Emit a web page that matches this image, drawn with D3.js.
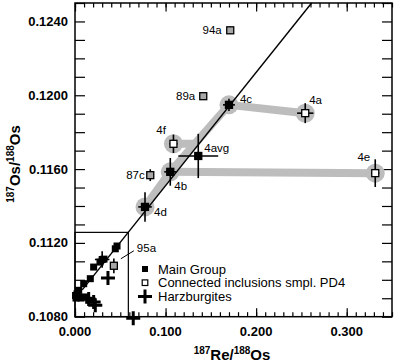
<!DOCTYPE html>
<html>
<head>
<meta charset="utf-8">
<script src="https://cdn.jsdelivr.net/npm/d3@7"></script>
<style>
  body { margin: 0; background: #fff; }
  svg { font-family: "Liberation Sans", Arial, sans-serif; }
</style>
</head>
<body>
<div id="chart"></div>
<script>
// main group (black squares), [Re/Os, Os/Os]
var mainGroup = [
  [0.0464, 0.11183], [0.0445, 0.11168], [0.0320, 0.11112], [0.0276, 0.11096],
  [0.0206, 0.11069], [0.0169, 0.11006], [0.0096, 0.10979], [0.0041, 0.10943],
  [0.0022, 0.10924], [0.0006, 0.10915], [0.0041, 0.10907], [0.0011, 0.10901],
  [0.0066, 0.10901], [0.0114, 0.10907], [0.0151, 0.10889]
];
// one main group point with error cross: [x, y, xerr, yerr]
var mainErr = [[0.0300, 0.11110, 0.008, 0.00045]];

var harzburgites = [
  [0.0364, 0.11010], [0.0206, 0.10880], [0.0224, 0.10862],
  [0.0151, 0.10896], [0.0643, 0.10791]
];

// labelled samples: id, kind, x, y, xerr, yerr
var samples = [
  ["94a", "grey", 0.1714, 0.12352, 0.002, 0.0002],
  ["89a", "grey", 0.1416, 0.11995, 0, 0],
  ["4c", "black", 0.1700, 0.11948, 0.0066, 0.00033],
  ["4a", "white", 0.2542, 0.11903, 0.009, 0.00054],
  ["4avg", "black", 0.1361, 0.11671, 0.022, 0.0012],
  ["4e", "white", 0.3315, 0.11578, 0.0045, 0.00075],
  ["4f", "white", 0.1087, 0.11737, 0.0045, 0.0005],
  ["87c", "grey", 0.0831, 0.11567, 0, 0.00032],
  ["4b", "black", 0.1052, 0.11585, 0.0066, 0.00075],
  ["4d", "black", 0.0773, 0.11395, 0.0075, 0.0008],
  ["95a", "grey", 0.0429, 0.11076, 0.002, 0.0004]
];
var halos = ["4c", "4a", "4e", "4f", "4b", "4d"];
var ties = [["4d", "4b"], ["4b", "4c"], ["4c", "4a"], ["4b", "4e"]];

// reference line: intercept, slope
var isoIntercept = 0.10896, isoSlope = 0.0614;
// inset box corner
var boxX = 0.0589, boxY = 0.11257;

var legendItems = ["Main Group", "Connected inclusions smpl. PD4", "Harzburgites"];

var xTicks = [0, 0.1, 0.2, 0.3];
var yTicks = [0.108, 0.112, 0.116, 0.120, 0.124];

var W = 394, H = 364;
var margin = {top: 3, right: 2, bottom: 47.3, left: 75},
    width = W - margin.left - margin.right,
    height = H - margin.top - margin.bottom;

var svg = d3.select("#chart").append("svg")
    .attr("width", W).attr("height", H);
var g = svg.append("g")
    .attr("transform", "translate(" + margin.left + "," + margin.top + ")");

var x = d3.scaleLinear().domain([0, 0.35]).range([0, width]);
var y = d3.scaleLinear().domain([0.108, 0.125]).range([height, 0]);

// ticks (all inward)
function tickAxis(axis, sel) {
  sel.call(axis);
  sel.select(".domain").remove();
  sel.selectAll("line").attr("stroke", "#000").attr("stroke-width", 1.2);
}
var xMinor = d3.range(0, 0.3501, 0.01);
var yMinor = d3.range(0.108, 0.12501, 0.001);

tickAxis(d3.axisBottom(x).tickValues(xMinor).tickSize(-4.5).tickFormat(""),
  g.append("g").attr("transform", "translate(0," + height + ")"));
tickAxis(d3.axisBottom(x).tickValues(xTicks).tickSize(-8.5).tickFormat(""),
  g.append("g").attr("transform", "translate(0," + height + ")"));
tickAxis(d3.axisTop(x).tickValues(xMinor).tickSize(-4.5).tickFormat(""), g.append("g"));
tickAxis(d3.axisTop(x).tickValues(xTicks).tickSize(-8.5).tickFormat(""), g.append("g"));
tickAxis(d3.axisLeft(y).tickValues(yMinor).tickSize(-10).tickFormat(""), g.append("g"));
tickAxis(d3.axisRight(y).tickValues(yMinor).tickSize(-10).tickFormat(""),
  g.append("g").attr("transform", "translate(" + width + ",0)"));

// tick labels
g.selectAll(".xl").data(xTicks).enter().append("text")
  .attr("x", function(d) { return x(d); })
  .attr("y", height + 19.5)
  .attr("text-anchor", "middle")
  .attr("font-size", 13).attr("font-weight", "bold")
  .text(d3.format(".3f"));
g.selectAll(".yl").data(yTicks).enter().append("text")
  .attr("x", -7)
  .attr("y", function(d) { return y(d); })
  .attr("dy", "0.35em")
  .attr("text-anchor", "end")
  .attr("font-size", 13).attr("font-weight", "bold")
  .text(d3.format(".4f"));

// frame
g.append("rect").attr("width", width).attr("height", height)
  .attr("fill", "none").attr("stroke", "#000").attr("stroke-width", 1.5);

// inset box
g.append("rect")
  .attr("x", x(0)).attr("y", y(boxY))
  .attr("width", x(boxX) - x(0)).attr("height", y(0.108) - y(boxY))
  .attr("fill", "none").attr("stroke", "#000").attr("stroke-width", 1.2);

var byId = {};
samples.forEach(function(s) { byId[s[0]] = s; });

// grey tie bands
var band = g.append("g").attr("stroke", "#bdbdbd").attr("stroke-width", 8)
  .attr("stroke-linecap", "round").attr("fill", "none");
ties.forEach(function(t) {
  var a = byId[t[0]], b = byId[t[1]];
  band.append("line")
    .attr("x1", x(a[2])).attr("y1", y(a[3]))
    .attr("x2", x(b[2])).attr("y2", y(b[3]));
});
// 4f joins the 4b-4c band horizontally
(function() {
  var f = byId["4f"], b = byId["4b"], c = byId["4c"];
  var t = (f[3] - b[3]) / (c[3] - b[3]);
  var jx = b[2] + t * (c[2] - b[2]);
  band.append("line")
    .attr("x1", x(f[2])).attr("y1", y(f[3]))
    .attr("x2", x(jx)).attr("y2", y(f[3]));
})();
g.selectAll(".halo").data(halos).enter().append("circle")
  .attr("cx", function(d) { return x(byId[d][2]); })
  .attr("cy", function(d) { return y(byId[d][3]); })
  .attr("r", 9.5).attr("fill", "#bdbdbd");

// reference line
var xEnd = (0.125 - isoIntercept) / isoSlope;
g.append("line")
  .attr("x1", x(0.008)).attr("y1", y(isoIntercept + isoSlope * 0.008))
  .attr("x2", x(xEnd)).attr("y2", y(0.125))
  .attr("stroke", "#000").attr("stroke-width", 1.4);

// error bars
function errBars(sel, data, ix, iy, ixe, iye) {
  var eg = sel.append("g").attr("stroke", "#000").attr("stroke-width", 1.6);
  data.forEach(function(d) {
    if (d[ixe] > 0) eg.append("line")
      .attr("x1", x(d[ix] - d[ixe])).attr("x2", x(d[ix] + d[ixe]))
      .attr("y1", y(d[iy])).attr("y2", y(d[iy]));
    if (d[iye] > 0) eg.append("line")
      .attr("x1", x(d[ix])).attr("x2", x(d[ix]))
      .attr("y1", y(d[iy] - d[iye])).attr("y2", y(d[iy] + d[iye]));
  });
}
errBars(g, mainErr, 0, 1, 2, 3);
errBars(g, samples, 2, 3, 4, 5);

// main group squares
var s = 7;
g.selectAll(".mg").data(mainGroup.concat(mainErr)).enter().append("rect")
  .attr("x", function(d) { return x(d[0]) - s / 2; })
  .attr("y", function(d) { return y(d[1]) - s / 2; })
  .attr("width", s).attr("height", s).attr("fill", "#000");

// harzburgite crosses
var cross = "M-7,0H7M0,-7V7";
g.selectAll(".hz").data(harzburgites).enter().append("path")
  .attr("transform", function(d) { return "translate(" + x(d[0]) + "," + y(d[1]) + ")"; })
  .attr("d", cross).attr("stroke", "#000").attr("stroke-width", 3);

// labelled sample squares
var fills = {black: "#000", white: "#fff", grey: "#a8a8a8"};
g.selectAll(".smp").data(samples).enter().append("rect")
  .attr("x", function(d) { return x(d[2]) - 3.5; })
  .attr("y", function(d) { return y(d[3]) - 3.5; })
  .attr("width", 7).attr("height", 7)
  .attr("fill", function(d) { return fills[d[1]]; })
  .attr("stroke", "#000").attr("stroke-width", 1.3);

// sample labels: dx, dy, anchor
var labelPos = {
  "94a": [-8.5, 0, "end"], "89a": [-8, 0, "end"], "4c": [11, -6, "start"],
  "4a": [4, -13, "start"], "4avg": [6, -8, "start"], "4e": [-5, -16, "end"],
  "4f": [-7.5, -14, "end"], "87c": [-5.5, 0, "end"], "4b": [4, 14, "start"],
  "4d": [9, 5, "start"], "95a": [23, -18, "start"]
};
g.selectAll(".lab").data(samples).enter().append("text")
  .attr("x", function(d) { return x(d[2]) + labelPos[d[0]][0]; })
  .attr("y", function(d) { return y(d[3]) + labelPos[d[0]][1]; })
  .attr("dy", "0.35em")
  .attr("text-anchor", function(d) { return labelPos[d[0]][2]; })
  .attr("font-size", 11.5)
  .text(function(d) { return d[0]; });
// leader for 95a
var p95 = byId["95a"];
g.append("line")
  .attr("x1", x(p95[2]) + 7).attr("y1", y(p95[3]) - 7)
  .attr("x2", x(p95[2]) + 20).attr("y2", y(p95[3]) - 15)
  .attr("stroke", "#000").attr("stroke-width", 1);

// legend
var lg = g.append("g").attr("transform", "translate(70,266)");
lg.selectAll("text").data(legendItems).enter().append("text")
  .attr("x", 13).attr("y", function(d, i) { return i * 13.7; })
  .attr("dy", "0.35em").attr("font-size", 13)
  .text(function(d) { return d; });
lg.append("rect").attr("x", -3).attr("y", -3).attr("width", 6).attr("height", 6).attr("fill", "#000");
lg.append("rect").attr("x", -2.8).attr("y", 13.7 - 2.8).attr("width", 5.6).attr("height", 5.6)
  .attr("fill", "#fff").attr("stroke", "#000").attr("stroke-width", 1.2);
lg.append("path").attr("transform", "translate(0," + 27.4 + ")")
  .attr("d", cross).attr("stroke", "#000").attr("stroke-width", 3);

// axis titles
var xt = svg.append("text").attr("x", 232).attr("y", 360)
  .attr("text-anchor", "middle").attr("font-size", 15).attr("font-weight", "bold");
xt.append("tspan").attr("font-size", 10).attr("dy", -6).text("187");
xt.append("tspan").attr("dy", 6).text("Re/");
xt.append("tspan").attr("font-size", 10).attr("dy", -6).text("188");
xt.append("tspan").attr("dy", 6).text("Os");

var yt = svg.append("text").attr("transform", "translate(20,164) rotate(-90)")
  .attr("text-anchor", "middle").attr("font-size", 15).attr("font-weight", "bold");
yt.append("tspan").attr("font-size", 10).attr("dy", -6).text("187");
yt.append("tspan").attr("dy", 6).text("Os/");
yt.append("tspan").attr("font-size", 10).attr("dy", -6).text("188");
yt.append("tspan").attr("dy", 6).text("Os");
</script>
</body>
</html>
